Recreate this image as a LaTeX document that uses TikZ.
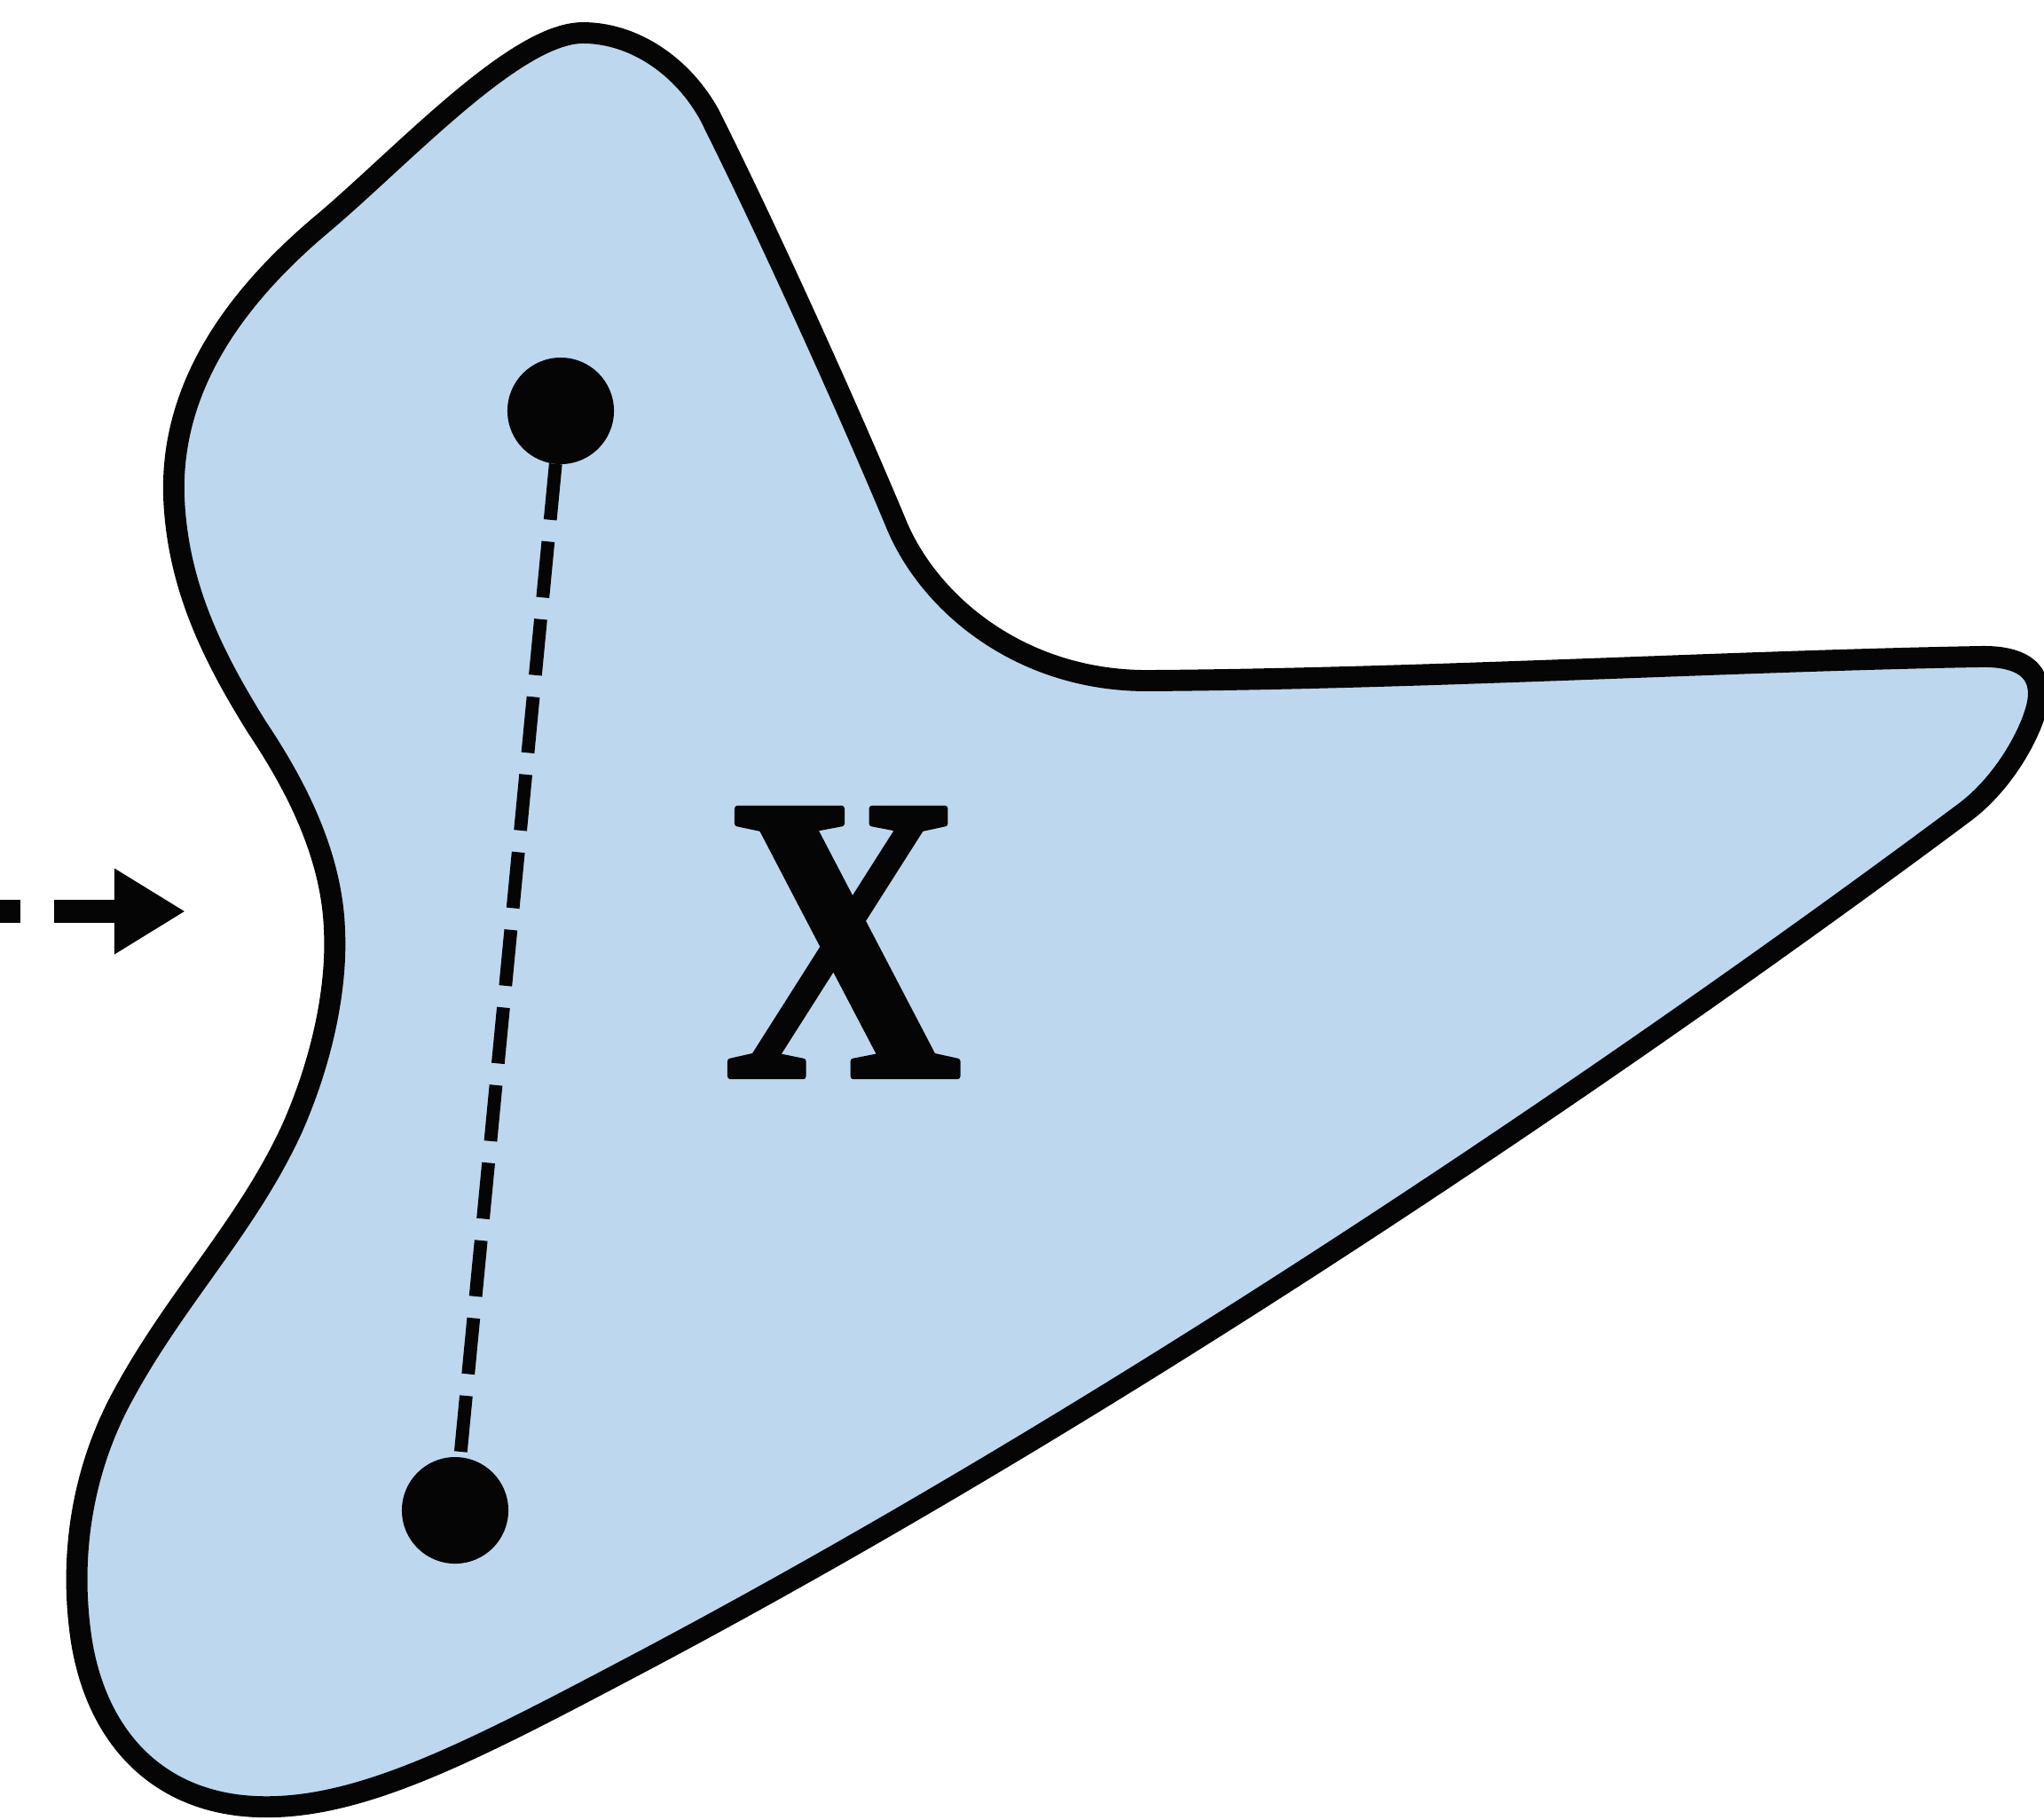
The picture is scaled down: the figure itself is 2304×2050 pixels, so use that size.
\documentclass[tikz,border=0pt]{standalone}
\usepackage{fontspec}
\setmainfont{Liberation Serif}
\newfontfamily\labelfont[FakeBold=1.5]{Liberation Serif}
\usepackage{graphicx}
\usetikzlibrary{arrows.meta,positioning}
\definecolor{softblue}{HTML}{BDD7EE}
\definecolor{ink}{HTML}{050505}
\tikzset{
    every picture/.style={line cap=round,line join=round},
    setshape/.style={draw=ink,fill=softblue,line width=6.8pt},
    pointdot/.style={circle,fill=ink,minimum size=1.2cm,inner sep=0pt,outer sep=0pt},
    joinline/.style={draw=ink,line width=4.2pt,line cap=butt,
      dash pattern=on 18pt off 7pt},
    comearrow/.style={-{Triangle[length=22.8pt,width=25.9pt]},draw=ink,
      line width=7.4pt,line cap=butt,dash pattern=on 22.8pt off 10.8pt},
    setlabel/.style={inner sep=0pt,text=ink,font=\labelfont\bfseries}
}
\begin{document}
\begin{tikzpicture}[x=0.01cm,y=-0.01cm]
  \useasboundingbox (0,0) rectangle (2304,2050);
  % the set X
  \draw[setshape] (657,37)
    .. controls (715,37) and (770,75) .. (800,130)
    .. controls (870,270) and (960,470) .. (1010,590)
    .. controls (1047,680) and (1150,767) .. (1293,767)
    .. controls (1600,765) and (1950,745) .. (2230,740)
    .. controls (2290,738) and (2305,765) .. (2295,800)
    .. controls (2285,835) and (2255,885) .. (2215,915)
    .. controls (1900,1150) and (1300,1570) .. (700,1885)
    .. controls (520,1980) and (400,2040) .. (290,2036)
    .. controls (180,2032) and (110,1960) .. (92,1850)
    .. controls (78,1760) and (90,1660) .. (140,1570)
    .. controls (200,1460) and (280,1380) .. (330,1270)
    .. controls (365,1190) and (380,1110) .. (377,1048)
    .. controls (374,960) and (330,880) .. (290,820)
    .. controls (240,740) and (200,660) .. (196,560)
    .. controls (192,440) and (260,340) .. (360,255)
    .. controls (450,180) and (580,37) .. cycle;
  \node[setlabel] (xlabel) at (950,1062) {\resizebox{2.68cm}{3.01cm}{X}};
  \node[pointdot] (ptop) at (632,463) {};
  \node[pointdot] (pbot) at (513,1702) {};
  \draw[joinline] (ptop)--(pbot);
  % incoming arrow
  \coordinate (arrtail) at (-175,1027);
  \coordinate (arrtip) at (209,1027);
  \draw[comearrow] (arrtail)--(arrtip);
\end{tikzpicture}
\end{document}
